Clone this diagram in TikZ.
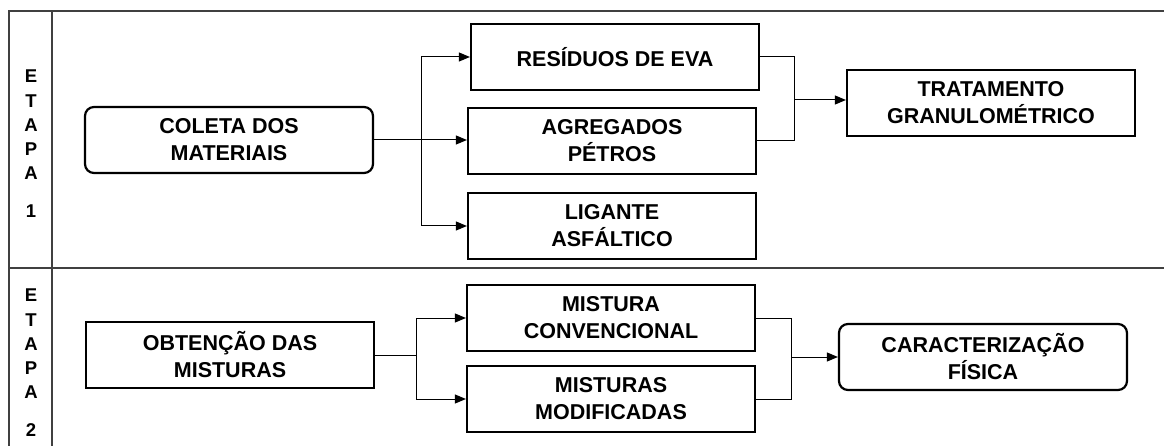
\documentclass[tikz,border=0pt]{standalone}
\usepackage{fontspec}
\setmainfont{Liberation Sans}
\usetikzlibrary{arrows.meta}
\begin{document}
\begin{tikzpicture}[x=1pt,y=-1pt,
  box/.style={draw=black,line width=2.2pt,minimum width=288pt,minimum height=66pt,align=center,inner sep=0pt,
    font=\fontsize{21.5}{27}\selectfont\bfseries},
  rbox/.style={box,rounded corners=9pt},
  frame/.style={draw=black!75,line width=1.4pt},
  conn/.style={draw=black,line width=1pt},
  arr/.style={conn,-{Triangle[length=11pt,width=9pt]}},
  stage/.style={font=\fontsize{18.5}{24.2}\selectfont\bfseries,align=center,inner sep=0pt}
]
\useasboundingbox (0,0) rectangle (1164,446);
% frame
\draw[frame] (9,446) -- (9,11) -- (1164,11);
\draw[frame] (52,11) -- (52,446);
\draw[frame] (9,268) -- (1164,268);
% stage labels
\node[stage] (e1) at (31,144) {E\\T\\A\\P\\A\\[14pt]1};
\node[stage] (e2) at (31,363) {E\\T\\A\\P\\A\\[14pt]2};
% stage 1 nodes
\node[rbox] (coleta) at (229,140) {COLETA DOS\\MATERIAIS};
\node[box] (residuos) at (615,57) {RESÍDUOS DE EVA};
\node[box] (agregados) at (612,141) {AGREGADOS\\PÉTROS};
\node[box] (ligante) at (612,226) {LIGANTE\\ASFÁLTICO};
\node[box] (tratamento) at (991,103) {TRATAMENTO\\GRANULOMÉTRICO};
% stage 2 nodes
\node[box] (obtencao) at (230,355) {OBTENÇÃO DAS\\MISTURAS};
\node[box] (convencional) at (611,318) {MISTURA\\CONVENCIONAL};
\node[box] (modificadas) at (611,399) {MISTURAS\\MODIFICADAS};
\node[rbox] (caract) at (983,357) {CARACTERIZAÇÃO\\FÍSICA};
% connectors stage 1
\coordinate (s1) at (421,140);
\draw[conn] (coleta.east) -- (s1);
\draw[arr] (s1) |- (residuos.west);
\draw[arr] (s1) -- (s1 -| agregados.west);
\draw[arr] (s1) |- (ligante.west);
\coordinate (m1) at (794,100);
\draw[conn] (residuos.east) -| (m1);
\draw[conn] (agregados.east) -| (m1);
\draw[arr] (m1) -- (m1 -| tratamento.west);
% connectors stage 2
\coordinate (s2) at (416,355);
\draw[conn] (obtencao.east) -- (s2);
\draw[arr] (s2) |- (convencional.west);
\draw[arr] (s2) |- (modificadas.west);
\coordinate (m2) at (791,357);
\draw[conn] (convencional.east) -| (m2);
\draw[conn] (modificadas.east) -| (m2);
\draw[arr] (m2) -- (m2 -| caract.west);
\end{tikzpicture}
\end{document}
